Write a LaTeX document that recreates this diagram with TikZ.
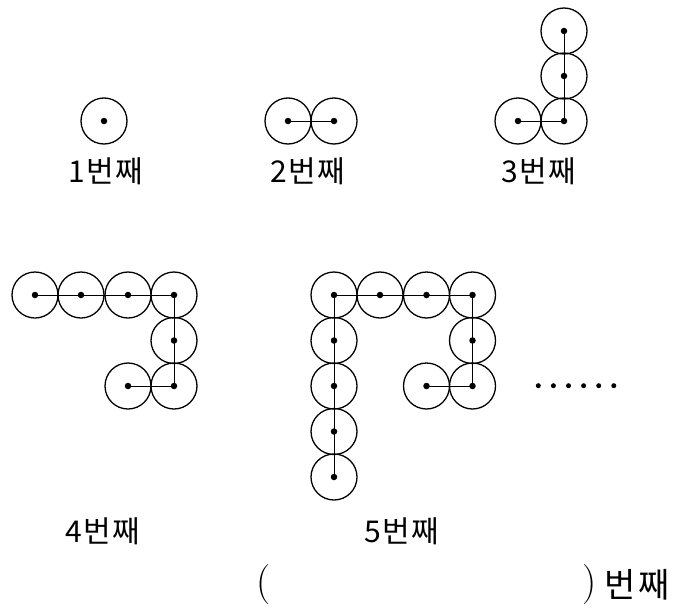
\documentclass[tikz,border=0pt]{standalone}
\usepackage{fontspec}
\newfontfamily\kr{Noto Sans CJK KR}[LetterSpace=4]
\newfontfamily\krwide{Noto Sans CJK KR}[LetterSpace=10]
\begin{document}
\begin{tikzpicture}[x=1pt,y=-1pt,
  ring/.style={draw,line width=1.3pt,circle,minimum size=46pt,inner sep=0pt},
  ctr/.style={fill,circle,inner sep=0pt,minimum size=6.5pt},
  link/.style={line width=1pt},
  lbl/.style={font=\kr\fontsize{30}{32}\selectfont,inner sep=0pt},
  big/.style={font=\krwide\fontsize{34}{36}\selectfont,inner sep=0pt},
  paren/.style={font=\fontsize{40}{42}\selectfont,inner sep=0pt},
  dotmark/.style={fill,circle,inner sep=0pt,minimum size=5pt}]
\useasboundingbox (0,0) rectangle (687,610);
% figure 1
\node[ring] (a1) at (104,121) {};
\node[ctr] (a1c) at (104,121) {};
% figure 2
\foreach \i/\x in {1/288,2/334} {
  \node[ring] (b\i) at (\x,121) {};
  \node[ctr] (b\i c) at (\x,121) {};
}
\draw[link] (b1c.center) -- (b2c.center);
% figure 3
\foreach \i/\x/\y in {1/518/121,2/564/121,3/564/76,4/564/31} {
  \node[ring] (c\i) at (\x,\y) {};
  \node[ctr] (c\i c) at (\x,\y) {};
}
\draw[link] (c1c.center) -- (c2c.center) -- (c4c.center);
% figure 4
\foreach \i/\x/\y in {1/35/295,2/81/295,3/128/295,4/174/295,5/174/340.5,6/174/386,7/128/386} {
  \node[ring] (d\i) at (\x,\y) {};
  \node[ctr] (d\i c) at (\x,\y) {};
}
\draw[link] (d1c.center) -- (d4c.center) -- (d6c.center) -- (d7c.center);
% figure 5
\foreach \i/\x/\y in {1/334/477,2/334/431.5,3/334/386,4/334/340.5,5/334/295,6/380/295,7/426.5/295,8/472.5/295,9/472.5/340.5,10/472.5/386,11/426.5/386} {
  \node[ring] (e\i) at (\x,\y) {};
  \node[ctr] (e\i c) at (\x,\y) {};
}
\draw[link] (e1c.center) -- (e5c.center) -- (e8c.center) -- (e10c.center) -- (e11c.center);
% dots
\foreach \i/\x in {1/538.3,2/553.4,3/568.5,4/583.6,5/598.7,6/613.8}
  \node[dotmark] (dot\i) at (\x,385.7) {};
% labels
\node[lbl] (l1) at (106,171) {1번째};
\node[lbl] (l2) at (308,171) {2번째};
\node[lbl] (l3) at (539,171) {3번째};
\node[lbl] (l4) at (103,531) {4번째};
\node[lbl] (l5) at (402,531) {5번째};
\node[paren] (p1) at (264,585) {(};
\node[paren,anchor=east] (p2) at (597,585) {)};
\node[big,anchor=west,xshift=7pt] (p3) at (p2.east) {번째};
\end{tikzpicture}
\end{document}
